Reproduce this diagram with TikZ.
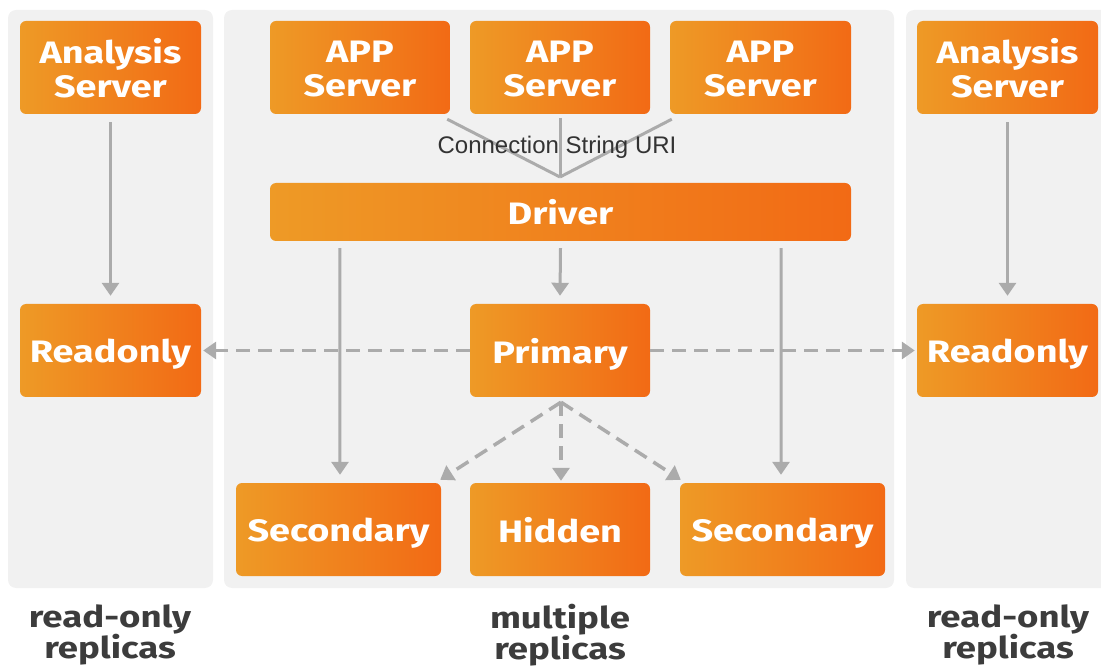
\documentclass[tikz,border=0pt]{standalone}
\usepackage{fontspec}
\setmainfont{Fira Sans}[FakeStretch=1.22]
\newfontfamily\arialf{Liberation Sans}
\usetikzlibrary{arrows.meta}
\definecolor{panel}{HTML}{F1F1F1}
\definecolor{ogA}{HTML}{EE9A26}
\definecolor{ogB}{HTML}{F26A15}
\definecolor{arrc}{HTML}{ABABAB}
\definecolor{labc}{HTML}{3C3C3C}
\definecolor{txtc}{HTML}{333333}
\newcommand{\firstln}{\rule{0pt}{24pt}}
\begin{document}
\begin{tikzpicture}[x=1pt,y=1pt,
  box/.style={rounded corners=6pt, left color=ogA, right color=ogB, draw=none,
    text=white, font=\bfseries\fontsize{31}{34}\selectfont, align=center,
    inner sep=0pt, text depth=0pt, minimum width=181pt, minimum height=93pt},
  widebox/.style={box, minimum width=205pt},
  panelbox/.style={fill=panel, rounded corners=8pt},
  gline/.style={draw=arrc, line width=3pt},
  garrow/.style={gline, -{Triangle[length=13pt,width=17pt]}},
  gdash/.style={garrow, line width=3.5pt, dash pattern=on 14pt off 8pt},
  bottomlab/.style={text=labc, font=\bfseries\fontsize{30}{31}\selectfont, align=center},
  uril/.style={text=txtc, font=\arialf\fontsize{24}{28}\selectfont, inner sep=0pt}
]
\useasboundingbox (0,0) rectangle (1101,-668);
% panels
\fill[panelbox] (8,-10) rectangle (213,-588);
\fill[panelbox] (224,-10) rectangle (894,-588);
\fill[panelbox] (906,-10) rectangle (1115,-588);
% boxes
\node[box] (as1) at (110.5,-67.5) {\firstln Analysis\\Server};
\node[box, minimum width=180pt] (app1) at (360,-67.5) {\firstln APP\\Server};
\node[box, minimum width=180pt] (app2) at (560,-67.5) {\firstln APP\\Server};
\node[box] (app3) at (760.5,-67.5) {\firstln APP\\Server};
\node[box] (as2) at (1007.5,-67.5) {\firstln Analysis\\Server};
\node[box, minimum width=581pt, minimum height=58pt] (drv) at (560.5,-212) {Driver};
\node[box] (ro1) at (110.5,-350.5) {Readonly};
\node[box, minimum width=180pt] (prim) at (560,-350.5) {Primary};
\node[box] (ro2) at (1007.5,-350.5) {Readonly};
\node[widebox] (sec1) at (338.5,-529.5) {Secondary};
\node[box, minimum width=180pt] (hid) at (560,-529.5) {Hidden};
\node[widebox] (sec2) at (782.5,-529.5) {Secondary};
% analysis arrows
\draw[garrow] ([yshift=-8pt]as1.south) -- ([yshift=8pt]ro1.north);
\draw[garrow] ([yshift=-8pt]as2.south) -- ([yshift=8pt]ro2.north);
% app lines
\coordinate (conv) at (560,-177);
\draw[gline] ([shift={(-3pt,-5pt)}]app1.south east) -- (conv);
\draw[gline] ([yshift=-4pt]app2.south) -- (conv);
\draw[gline] ([shift={(2pt,-5pt)}]app3.south west) -- (conv);
\node[uril] (uri) at (557,-147) {Connection String URI};
% driver arrows
\draw[garrow] ([yshift=-7pt]drv.south) -- ([yshift=8pt]prim.north);
\draw[garrow] ([shift={(70pt,-7pt)}]drv.south west) -- ([shift={(1.5pt,8pt)}]sec1.north);
\draw[garrow] ([shift={(-70pt,-7pt)}]drv.south east) -- ([shift={(-1.5pt,8pt)}]sec2.north);
% primary dashed arrows
\draw[gdash] (prim.west) -- ([xshift=2pt]ro1.east);
\draw[gdash] (prim.east) -- ([xshift=-2pt]ro2.west);
\coordinate (fan) at ([shift={(1pt,-5pt)}]prim.south);
\draw[gdash] (fan) -- ([shift={(-1pt,3pt)}]sec1.north east);
\draw[gdash] (fan) -- ([shift={(1pt,2pt)}]hid.north);
\draw[gdash] (fan) -- ([shift={(1pt,3pt)}]sec2.north west);
% bottom labels
\node[bottomlab] (l1) at (110,-635) {read-only\\replicas};
\node[bottomlab] (l2) at (560,-635) {multiple\\replicas};
\node[bottomlab] (l3) at (1008,-635) {read-only\\replicas};
\end{tikzpicture}
\end{document}
